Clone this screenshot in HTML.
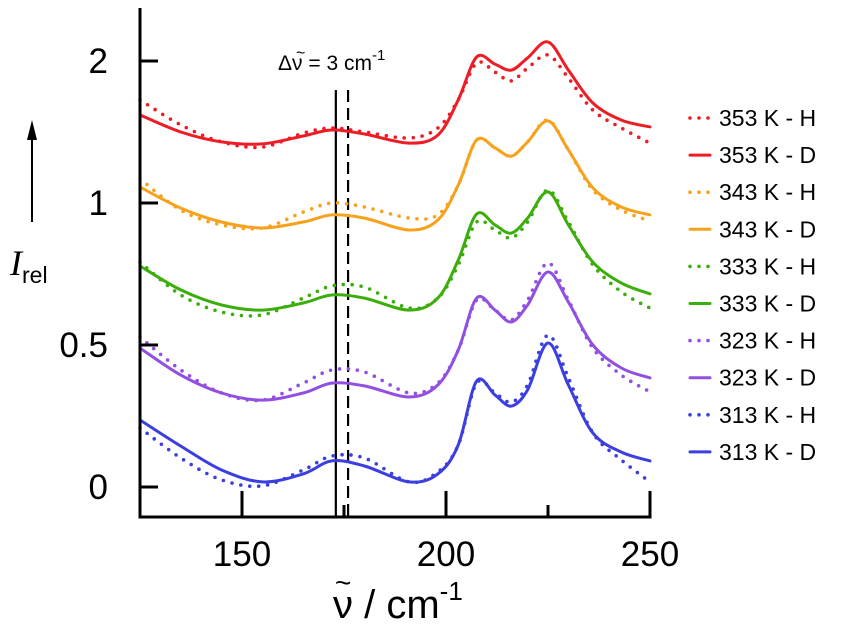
<!DOCTYPE html>
<html><head><meta charset="utf-8"><style>
body{margin:0;background:#fff;}
svg{display:block;font-family:"Liberation Sans",sans-serif;}
</style></head><body>
<svg id="chart" width="850" height="637" viewBox="0 0 850 637"></svg>
<script>
const xGrid=[125,135,145,155,165,172,180,191,198,203,207.5,212,216,220,225,230,236,243,250];
const blueD=[0.236,0.144,0.060,0.018,0.046,0.092,0.074,0.018,0.046,0.148,0.373,0.324,0.285,0.342,0.507,0.359,0.190,0.123,0.092];
const blueH=[0.208,0.102,0.025,0.004,0.060,0.109,0.102,0.018,0.053,0.148,0.366,0.331,0.299,0.359,0.535,0.384,0.190,0.095,0.018];
const purpleD=[0.489,0.394,0.331,0.306,0.331,0.366,0.356,0.317,0.359,0.482,0.665,0.623,0.581,0.641,0.757,0.651,0.500,0.419,0.384];
const purpleH=[0.528,0.412,0.331,0.306,0.366,0.412,0.405,0.331,0.366,0.482,0.658,0.623,0.588,0.658,0.789,0.658,0.489,0.394,0.335];
const greenD=[0.778,0.694,0.641,0.623,0.648,0.676,0.665,0.623,0.665,0.799,0.961,0.923,0.894,0.947,1.039,0.923,0.792,0.718,0.680];
const greenH=[0.792,0.676,0.616,0.606,0.665,0.708,0.704,0.630,0.665,0.782,0.933,0.905,0.877,0.933,1.046,0.933,0.782,0.687,0.630];
const orangeD=[1.056,0.982,0.933,0.912,0.933,0.958,0.947,0.905,0.940,1.063,1.222,1.194,1.165,1.215,1.289,1.187,1.053,0.986,0.958];
const orangeH=[1.085,0.975,0.923,0.912,0.968,1.0,0.986,0.947,0.958,1.063,1.222,1.194,1.165,1.215,1.292,1.187,1.046,0.975,0.937];
const redD=[1.310,1.250,1.215,1.208,1.236,1.257,1.243,1.211,1.239,1.363,1.514,1.489,1.468,1.511,1.567,1.468,1.352,1.292,1.268];
const redH=[1.363,1.275,1.215,1.197,1.246,1.264,1.250,1.229,1.264,1.363,1.493,1.461,1.430,1.475,1.521,1.440,1.327,1.264,1.211];
const xTicks=[150,200,250];
const xMinor=[175,225];
const yTickVals=[0,0.5,1,1.5];
const yTickLabels=["0","0.5","1","2"];
const seriesNames=["353 K - H","353 K - D","343 K - H","343 K - D","333 K - H","333 K - D","323 K - H","323 K - D","313 K - H","313 K - D"];
const seriesData=[redH,redD,orangeH,orangeD,greenH,greenD,purpleH,purpleD,blueH,blueD];
const seriesColors=["#ee1c25","#ee1c25","#f7a21c","#f7a21c","#3cae0c","#3cae0c","#9150e2","#9150e2","#3c3fe0","#3c3fe0"];
const markerLines=[173,176];

const NS="http://www.w3.org/2000/svg";
const svg=document.getElementById('chart');
const X0=125,X1=250,PX0=140,PX1=650;
const sx=v=>PX0+(v-X0)*(PX1-PX0)/(X1-X0);
const sy=v=>487-v*284;
function mk(tag,attrs,parent){const e=document.createElementNS(NS,tag);for(const k in attrs)e.setAttribute(k,attrs[k]);(parent||svg).appendChild(e);return e;}
function pathFor(xs,ys){
  const P=xs.map((x,i)=>[sx(x),sy(ys[i])]);
  let d="M"+P[0][0].toFixed(1)+","+P[0][1].toFixed(1);
  for(let i=0;i<P.length-1;i++){
    const p0=P[Math.max(0,i-1)],p1=P[i],p2=P[i+1],p3=P[Math.min(P.length-1,i+2)];
    const c1=[p1[0]+(p2[0]-p0[0])/6,p1[1]+(p2[1]-p0[1])/6];
    const c2=[p2[0]-(p3[0]-p1[0])/6,p2[1]-(p3[1]-p1[1])/6];
    d+="C"+c1[0].toFixed(1)+","+c1[1].toFixed(1)+" "+c2[0].toFixed(1)+","+c2[1].toFixed(1)+" "+p2[0].toFixed(1)+","+p2[1].toFixed(1);
  }
  return d;
}
markerLines.forEach((v,i)=>{
  const l=mk('line',{x1:sx(v),x2:sx(v),y1:90,y2:517,stroke:'#000','stroke-width':2.2});
  if(i===1)l.setAttribute('stroke-dasharray','12 6');
  
  
});
seriesData.forEach((ys,i)=>{
  const dotted=i%2===0;
  const p=mk('path',{d:pathFor(xGrid,ys),fill:'none',stroke:seriesColors[i],'stroke-width':dotted?3.6:3,'stroke-linecap':'round'});
  if(dotted)p.setAttribute('stroke-dasharray','0 9');
  
  
});
const ax=mk('path',{d:`M${PX0},8 V517 H${PX1} V${517-26}`,fill:'none',stroke:'#000','stroke-width':3});


xTicks.forEach(v=>{
  const t=mk('line',{x1:sx(v),x2:sx(v),y1:517,y2:491,stroke:'#000','stroke-width':3});
  
  
  const tx=mk('text',{x:sx(v),y:566,'font-size':35,'text-anchor':'middle'});tx.textContent=v;
  
  
});
xMinor.forEach(v=>{
  const t=mk('line',{x1:sx(v),x2:sx(v),y1:517,y2:505,stroke:'#000','stroke-width':3});
  
  
});
yTickVals.forEach((v,i)=>{
  const t=mk('line',{x1:PX0,x2:PX0+18,y1:sy(v),y2:sy(v),stroke:'#000','stroke-width':3});
  
  
  const tx=mk('text',{x:108,y:sy(v)+12,'font-size':35,'text-anchor':'end'});tx.textContent=yTickLabels[i];
  
  
});
seriesNames.forEach((n,i)=>{
  const y=118+i*37.1;
  const l=mk('line',{x1:690,x2:710,y1:y,y2:y,stroke:seriesColors[i],'stroke-width':i%2?3:3.6,'stroke-linecap':'round'});
  if(i%2===0)l.setAttribute('stroke-dasharray','0 9');
  
  
  const t=mk('text',{x:719,y:y+8,'font-size':23});t.textContent=n;
  
  
});
</script>
<svg style="position:absolute;left:0;top:0" width="850" height="637" font-family="Liberation Sans,sans-serif">
<text x="278" y="70" font-size="21">Δν = 3 cm<tspan dy="-10" font-size="15">-1</tspan></text>
<text x="296" y="58" font-size="16">~</text>
<text x="333" y="618" font-size="40">ν / cm<tspan dy="-18" font-size="26">-1</tspan></text>
<text x="335" y="592" font-size="28">~</text>
<text x="10" y="275" font-size="36" font-style="italic" font-family="Liberation Serif,serif">I<tspan dy="8" font-size="23" font-style="normal" font-family="Liberation Sans,sans-serif">rel</tspan></text>
<line x1="32" y1="222" x2="32" y2="134" stroke="#000" stroke-width="2"/>
<path d="M27,140 L32,120 L37,140 Z" fill="#000"/>
</svg>
</body></html>
